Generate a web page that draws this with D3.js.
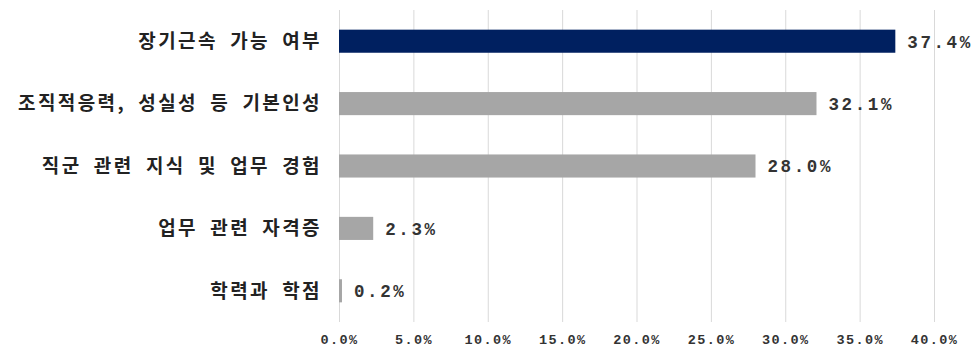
<!DOCTYPE html>
<html><head><meta charset="utf-8">
<script src="https://cdn.jsdelivr.net/npm/d3@7"></script>
<style>body{margin:0;background:#fff}svg{display:block}</style>
</head><body>
<svg id="c" width="974" height="349"></svg>
<script>
const categories = ["장기근속 가능 여부","조직적응력, 성실성 등 기본인성","직군 관련 지식 및 업무 경험","업무 관련 자격증","학력과 학점"];
const values = [37.4, 32.1, 28.0, 2.3, 0.2];
const tickValues = [0,5,10,15,20,25,30,35,40];
const barColors = ["#002060","#a6a6a6","#a6a6a6","#a6a6a6","#a6a6a6"];

const svg = d3.select("#c");
const m = {left:339, right:40, top:10, bottom:27};
const W = 974, H = 349;
const x = d3.scaleLinear().domain([0,40]).range([m.left, 934]);
const y = d3.scaleBand().domain(categories).range([m.top, H - m.bottom]).paddingInner(0.63).paddingOuter(0.315);

// gridlines
svg.append("g").selectAll("line").data(tickValues).join("line")
  .attr("x1", d=>x(d)+0.5).attr("x2", d=>x(d)+0.5)
  .attr("y1", m.top).attr("y2", H - m.bottom)
  .attr("stroke", "#d9d9d9").attr("stroke-width", 1);

// x axis
const xa = svg.append("g").attr("transform", `translate(0,${H - m.bottom})`)
  .call(d3.axisBottom(x).tickValues(tickValues).tickSize(0).tickPadding(12).tickFormat(d=>d.toFixed(1)+"%"));
xa.select(".domain").remove();
xa.selectAll("text").attr("font-family","'Liberation Mono', monospace").attr("font-size","13.5px")
  .attr("letter-spacing","1.4px").attr("fill","#333").attr("font-weight","bold");

// bars
svg.append("g").selectAll("rect").data(values).join("rect")
  .attr("x", x(0)).attr("y", (d,i)=>y(categories[i]))
  .attr("width", d=>x(d)-x(0)).attr("height", y.bandwidth())
  .attr("fill", (d,i)=>barColors[i]);

// value labels
svg.append("g").selectAll("text").data(values).join("text")
  .attr("x", d=>x(d)+12).attr("y", (d,i)=>y(categories[i])+y.bandwidth()/2)
  .attr("dy","0.36em")
  .attr("font-family","'Liberation Mono', monospace").attr("font-size","17.5px")
  .attr("letter-spacing","2.6px").attr("font-weight","bold").attr("fill","#333")
  .text(d=>d.toFixed(1)+"%");

// category labels
svg.append("g").selectAll("text").data(categories).join("text")
  .attr("x", 322).attr("y", d=>y(d)+y.bandwidth()/2)
  .attr("dy","0.36em").attr("text-anchor","end")
  .attr("font-family","'Noto Sans CJK KR', sans-serif").attr("font-size","19px")
  .attr("font-weight","bold").attr("letter-spacing","2.4px").attr("word-spacing","5.6px")
  .attr("fill","#222")
  .text(d=>d);
</script>
</body></html>
